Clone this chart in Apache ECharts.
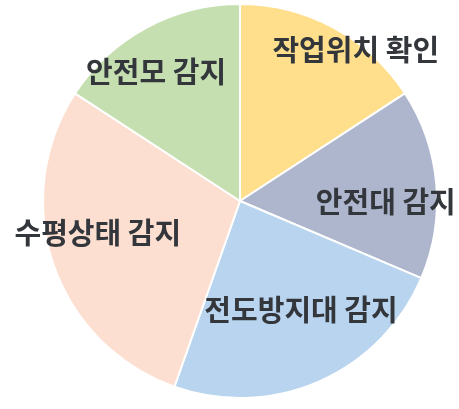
<!DOCTYPE html>
<html>
<head>
<meta charset="utf-8">
<style>
  html, body { margin: 0; padding: 0; background: #ffffff; }
  #chart { width: 459px; height: 409px; }
</style>
<script src="https://cdn.jsdelivr.net/npm/echarts@6/dist/echarts.min.js"></script>
</head>
<body>
<div id="chart"></div>
<script>
// Sensor function share (%), clockwise from 12 o'clock
const categories = ['작업위치 확인', '안전대 감지', '전도방지대 감지', '수평상태 감지', '안전모 감지'];
const shares = [15.8, 15.6, 24.0, 28.8, 15.8];
const sliceColors = ['#ffdf8c', '#adb6cd', '#b8d4ee', '#fcdfd0', '#c5dfb0'];

// Label placement: [fraction of radius, angle in degrees clockwise from top]
const labelPlace = [[0.965, 37.5], [0.74, 90.5], [0.635, 150.8], [0.74, 257.3], [0.78, 326.9]];

const CX = 240, CY = 201, R = 197;

const chart = echarts.init(document.getElementById('chart'), null, { renderer: 'canvas' });

chart.setOption({
  animation: false,
  backgroundColor: '#ffffff',
  series: [{
    type: 'pie',
    center: [CX, CY],
    radius: [0, R],
    startAngle: 90,
    clockwise: true,
    data: categories.map((name, i) => ({
      name,
      value: shares[i],
      itemStyle: { color: sliceColors[i] }
    })),
    itemStyle: { borderColor: '#ffffff', borderWidth: 2 },
    label: {
      show: true,
      position: 'inside',
      formatter: '{b}',
      color: '#33373c',
      fontFamily: '"Noto Sans CJK KR", "Noto Sans", sans-serif',
      fontWeight: 'bold',
      fontSize: 29
    },
    labelLine: { show: false },
    labelLayout: function (params) {
      const p = labelPlace[params.dataIndex];
      const a = p[1] * Math.PI / 180;
      return {
        x: CX + p[0] * R * Math.sin(a),
        y: CY - p[0] * R * Math.cos(a),
        align: 'center',
        verticalAlign: 'middle'
      };
    },
    emphasis: { disabled: true }
  }]
});
</script>
</body>
</html>
